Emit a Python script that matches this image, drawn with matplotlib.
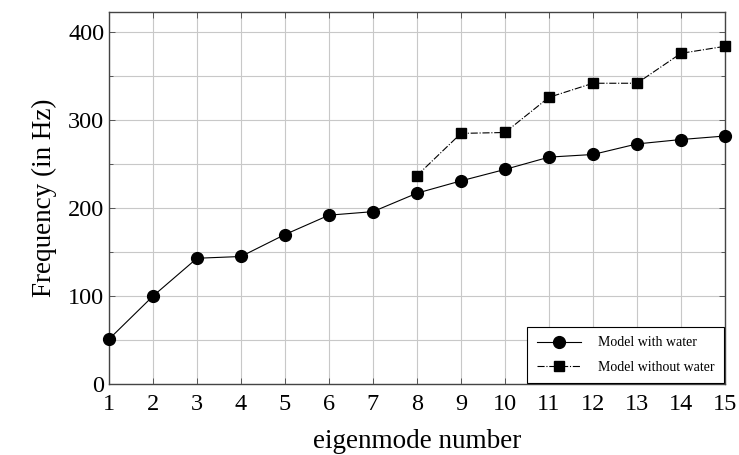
import matplotlib.pyplot as plt
from matplotlib.ticker import MultipleLocator

#---- data
modes = list(range(1, 16))
with_water = [51, 100, 143, 145, 170, 192, 196, 217, 231, 244, 258, 261, 273, 278, 282]
modes_dry = list(range(8, 16))
without_water = [237, 285, 286, 326, 342, 342, 376, 384]

plt.rcParams['font.family'] = ['Liberation Serif', 'DejaVu Serif']

fig = plt.figure(figsize=(7.39, 4.55), dpi=100)
ax = fig.add_axes([0.1475, 0.156, 0.8335, 0.8176])

ax.plot(modes, with_water, color='black', lw=0.8, marker='o', ms=8.5,
        label='Model with water', zorder=3, clip_on=False)
ax.plot(modes_dry, without_water, color='black', lw=0.8, ls='-.', marker='s', ms=7.8,
        label='Model without water', zorder=3, clip_on=False)

ax.set_xlim(1, 15)
ax.set_ylim(0, 423)
ax.xaxis.set_major_locator(MultipleLocator(1))
ax.yaxis.set_major_locator(MultipleLocator(100))
ax.yaxis.set_minor_locator(MultipleLocator(50))
ax.grid(True, which='both', color='#c8c8c8', lw=0.8)
ax.set_axisbelow(True)
ax.tick_params(which='both', direction='in', top=True, right=True, length=4,
               width=0.6, labelsize=17.5, color='#444444')
ax.tick_params(axis='x', pad=7)
ax.tick_params(which='minor', length=3)
for s in ax.spines.values():
    s.set_color('#444444')
    s.set_linewidth(1.0)

ax.set_xlabel('eigenmode number', fontsize=19.5, labelpad=10)
ax.set_ylabel('Frequency (in Hz)', fontsize=19.5, labelpad=8)

leg = ax.legend(loc='lower right', fontsize=10, frameon=True, fancybox=False,
                edgecolor='black', framealpha=1, borderaxespad=0.05,
                handlelength=3.2, borderpad=0.7, labelspacing=0.8, handletextpad=1.2)
leg.get_frame().set_linewidth(0.8)

fig.savefig('out.png', dpi=100)
